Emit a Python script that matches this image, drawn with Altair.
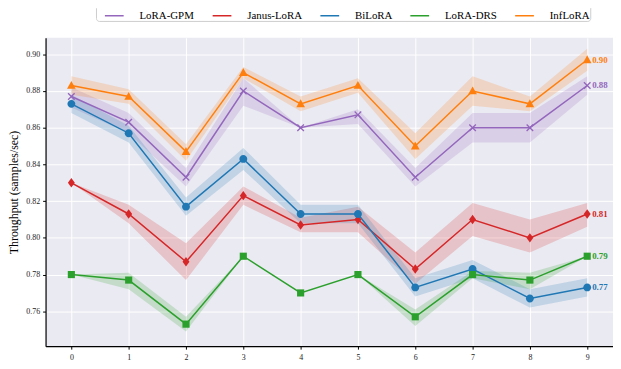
import altair as alt
import pandas as pd

steps = list(range(10))
series = ["LoRA-GPM", "Janus-LoRA", "BiLoRA", "LoRA-DRS", "InfLoRA"]
colors = ["#9467bd", "#d62728", "#1f77b4", "#2ca02c", "#ff7f0e"]

gpm_mean = [0.877, 0.863, 0.833, 0.880, 0.860, 0.867, 0.833, 0.860, 0.860, 0.883]
gpm_lo = [0.871, 0.857, 0.828, 0.872, 0.860, 0.862, 0.828, 0.852, 0.852, 0.878]
gpm_hi = [0.882, 0.868, 0.838, 0.887, 0.860, 0.870, 0.838, 0.868, 0.868, 0.888]

janus_mean = [0.830, 0.813, 0.787, 0.823, 0.807, 0.810, 0.783, 0.810, 0.800, 0.813]
janus_lo = [0.830, 0.808, 0.777, 0.818, 0.803, 0.803, 0.775, 0.801, 0.792, 0.806]
janus_hi = [0.830, 0.818, 0.797, 0.828, 0.811, 0.817, 0.792, 0.819, 0.810, 0.819]

bi_mean = [0.873, 0.857, 0.817, 0.843, 0.813, 0.813, 0.773, 0.783, 0.767, 0.773]
bi_lo = [0.868, 0.852, 0.812, 0.837, 0.808, 0.808, 0.768, 0.778, 0.762, 0.768]
bi_hi = [0.878, 0.861, 0.822, 0.849, 0.818, 0.818, 0.778, 0.788, 0.772, 0.778]

drs_mean = [0.780, 0.777, 0.753, 0.790, 0.770, 0.780, 0.757, 0.780, 0.777, 0.790]
drs_lo = [0.780, 0.772, 0.749, 0.790, 0.770, 0.780, 0.752, 0.778, 0.772, 0.790]
drs_hi = [0.780, 0.781, 0.757, 0.790, 0.770, 0.780, 0.761, 0.782, 0.781, 0.790]

inf_mean = [0.883, 0.877, 0.847, 0.890, 0.873, 0.883, 0.850, 0.880, 0.873, 0.897]
inf_lo = [0.878, 0.873, 0.842, 0.887, 0.869, 0.879, 0.843, 0.872, 0.869, 0.891]
inf_hi = [0.888, 0.881, 0.851, 0.893, 0.877, 0.887, 0.857, 0.888, 0.877, 0.903]

means = [gpm_mean, janus_mean, bi_mean, drs_mean, inf_mean]
los = [gpm_lo, janus_lo, bi_lo, drs_lo, inf_lo]
his = [gpm_hi, janus_hi, bi_hi, drs_hi, inf_hi]

rows = []
for s, m, lo, hi in zip(series, means, los, his):
    for i, x in enumerate(steps):
        rows.append({"series": s, "method": s, "step": x, "mean": m[i], "lo": lo[i],
                     "hi": hi[i], "label": f"{m[i]:.2f}" if i == len(steps) - 1 else ""})
df = pd.DataFrame(rows)
last = df[df["step"] == steps[-1]]

FONT = "Liberation Serif"
SYM = 361  # symbol size shared by plot markers and both legend layers

xsc = alt.Scale(domain=[-0.45, 9.45], nice=False, zero=False)
ysc = alt.Scale(domain=[0.741, 0.909], nice=False, zero=False)
fill_sc = alt.Scale(domain=series, range=colors)
color_sc = alt.Scale(domain=series, range=colors)

x_enc = alt.X("step:Q", scale=xsc, title=None,
              axis=alt.Axis(values=steps, format="d", grid=True, gridColor="white", gridWidth=1,
                            domainColor="black", domainWidth=1.2, tickColor="black", tickSize=3,
                            labelFontSize=8, labelPadding=4, labelFont=FONT, labelColor="#222"))
y_enc = alt.Y("mean:Q", scale=ysc, title="Throughput (samples/sec)",
              axis=alt.Axis(values=[0.76, 0.78, 0.80, 0.82, 0.84, 0.86, 0.88, 0.90], format=".2f",
                            grid=True, gridColor="white", gridWidth=1, domainColor="black",
                            domainWidth=1.2, tickColor="black", tickSize=3, labelFontSize=8,
                            labelPadding=3, labelFont=FONT, labelColor="#222",
                            titleFont=FONT, titleFontSize=12, titleFontWeight="normal",
                            titleColor="black", titlePadding=5))

common = dict(
    orient="none", direction="horizontal", columns=5, legendX=51, legendY=-33,
    symbolSize=SYM, symbolStrokeWidth=1.5, symbolOpacity=1, symbolOffset=8,
    labelFont=FONT, labelFontSize=11, labelFontWeight="normal", labelColor="black",
    labelOffset=15, columnPadding=9, padding=0, title=None,
    labelExpr="datum.label + ' '",
)
# line part of the legend (draws the box and labels)
legend_lines = alt.Legend(symbolType="stroke", strokeColor="#cccccc",
                          cornerRadius=3, zindex=0, **common)
# marker part of the legend, laid out identically on top of it
legend_marks = alt.Legend(symbolStrokeColor="transparent", symbolFillColor="transparent",
                          labelOpacity=0, zindex=1, **common)

# filled marker outlines in [-1, 1] units
marker_paths = [
    "M0,-0.1L0.3,-0.4L0.4,-0.3L0.1,0L0.4,0.3L0.3,0.4L0,0.1L-0.3,0.4L-0.4,0.3L-0.1,0L-0.4,-0.3L-0.3,-0.4Z",
    "M0,-0.5L0.37,0L0,0.5L-0.37,0Z",
    "M0.42,0A0.42,0.42 0 1,1 -0.42,0A0.42,0.42 0 1,1 0.42,0Z",
    "M-0.38,-0.38H0.38V0.38H-0.38Z",
    "M0,-0.48L0.46,0.36H-0.46Z",
]

band = alt.Chart(df).mark_area(opacity=0.2).encode(
    x=x_enc, y=alt.Y("lo:Q", scale=ysc), y2="hi:Q",
    fill=alt.Fill("series:N", scale=fill_sc, legend=None),
    detail="series:N")

line = alt.Chart(df).mark_line(strokeWidth=1.5).encode(
    x=x_enc, y=y_enc,
    stroke=alt.Stroke("method:N", sort=series, scale=alt.Scale(range=colors),
                      legend=legend_lines),
    detail="series:N")

points = alt.Chart(df).mark_point(filled=True, size=SYM, opacity=1).encode(
    x=x_enc, y=y_enc,
    color=alt.Color("series:N", scale=color_sc, legend=legend_marks),
    shape=alt.Shape("series:N", scale=alt.Scale(domain=series, range=marker_paths),
                    legend=legend_marks),
)

labels = alt.Chart(last).mark_text(align="left", baseline="middle", dx=5, fontWeight="bold",
                                   fontSize=9, font=FONT).encode(
    x=alt.X("step:Q", scale=xsc), y=alt.Y("mean:Q", scale=ysc),
    text="label:N", fill=alt.Fill("series:N", scale=fill_sc, legend=None))

chart = alt.layer(band, line, points, labels).properties(
    width=574, height=312,
    autosize=alt.AutoSizeParams(type="none"),
    padding={"left": 38, "top": 28, "right": 0, "bottom": 21},
).configure_view(fill="#EAEAF2", stroke=None)

chart.save("out.html", embed_options={"renderer": "svg", "actions": False})
